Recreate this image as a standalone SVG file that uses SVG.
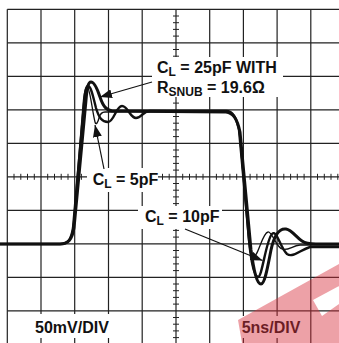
<svg xmlns="http://www.w3.org/2000/svg" width="339" height="343" viewBox="0 0 339 343">
<defs>
<style>
.grid{stroke:#222;stroke-width:1.2;fill:none}
.tick{stroke:#222;stroke-width:1;fill:none}
.trace{fill:none;stroke:#111;stroke-linejoin:round;stroke-linecap:round}
.lbl{font-family:"Liberation Sans",Arial,sans-serif;font-weight:bold;font-size:16px;fill:#111}
.sub{font-size:12px}
.bg{fill:#fff}
.arrow{stroke:#111;stroke-width:1.2;fill:none}
</style>
<marker id="ah" markerUnits="userSpaceOnUse" markerWidth="13" markerHeight="9" refX="12" refY="4.5" orient="auto">
<path d="M0,0 L12,4.5 L0,9 z" fill="#111"/>
</marker>
</defs>
<rect width="339" height="343" fill="#fff"/>
<g id="grid">
<path class="grid" d="M7.3,9.3V343 M41,9.3V343 M74.7,9.3V343 M108.5,9.3V343 M142.2,9.3V343 M176,9.3V343 M209.7,9.3V343 M243.4,9.3V343 M277.1,9.3V343 M310.8,9.3V343"/>
<path class="grid" d="M7.3,9.3H339 M7.3,42.8H339 M7.3,76.3H339 M7.3,109.8H339 M7.3,143.3H339 M7.3,176.8H339 M7.3,210.3H339 M7.3,243.8H339 M7.3,277.3H339 M7.3,310.8H339"/>
<path class="tick" d="M173,16H179 M173,22.7H179 M173,29.4H179 M173,36.1H179 M173,49.5H179 M173,56.2H179 M173,62.9H179 M173,69.6H179 M173,83H179 M173,89.7H179 M173,96.4H179 M173,103.1H179 M173,116.5H179 M173,123.2H179 M173,129.9H179 M173,136.6H179 M173,150H179 M173,156.7H179 M173,163.4H179 M173,170.1H179 M173,183.5H179 M173,190.2H179 M173,196.9H179 M173,203.6H179 M173,217H179 M173,223.7H179 M173,230.4H179 M173,237.1H179 M173,250.5H179 M173,257.2H179 M173,263.9H179 M173,270.6H179 M173,284H179 M173,290.7H179 M173,297.4H179 M173,304.1H179 M173,317.5H179 M173,324.2H179 M173,330.9H179 M173,337.6H179"/>
<path class="tick" d="M14,173.8V179.8 M20.8,173.8V179.8 M27.5,173.8V179.8 M34.3,173.8V179.8 M47.7,173.8V179.8 M54.5,173.8V179.8 M61.2,173.8V179.8 M68,173.8V179.8 M81.4,173.8V179.8 M88.2,173.8V179.8 M94.9,173.8V179.8 M101.7,173.8V179.8 M115.2,173.8V179.8 M122,173.8V179.8 M128.7,173.8V179.8 M135.5,173.8V179.8 M148.9,173.8V179.8 M155.7,173.8V179.8 M162.5,173.8V179.8 M169.2,173.8V179.8 M182.7,173.8V179.8 M189.5,173.8V179.8 M196.2,173.8V179.8 M203,173.8V179.8 M216.4,173.8V179.8 M223.2,173.8V179.8 M229.9,173.8V179.8 M236.7,173.8V179.8 M250.1,173.8V179.8 M256.9,173.8V179.8 M263.6,173.8V179.8 M270.4,173.8V179.8 M283.8,173.8V179.8 M290.6,173.8V179.8 M297.3,173.8V179.8 M304.1,173.8V179.8 M317.5,173.8V179.8 M324.3,173.8V179.8 M331,173.8V179.8 M337.8,173.8V179.8"/>
</g>
<g id="traces">
<path class="trace" stroke-width="3" d="M0,244 L60,244 C68,244 72,240 74,228 L86,100 C87,88 88,82 91,82 C94,82 97,88 100,97 C103,106 106,110 112,111 L226,112 C233,113 237,118 240,132 L251,250 C254,272 257,284 261,284 C265,284 268,265 271,250 C274,236 279,228 286,229 C292,230 296,237 302,241 C306,244 310,244 316,244 L339,244"/>
<path class="trace" stroke-width="2.4" d="M0,244 L60,244 C68,244 71,240 73,228 L84,104 C85,92 86,86 88,86 C91,86 93,96 96,108 C99,118 102,122 108,122 C114,122 116,106 122,106 C128,106 130,118 136,118 C142,118 143,111 150,111 L226,111 C233,111 236,117 239,130 L249,240 C251,262 254,276 258,277 C262,278 266,240 272,234 C277,229 280,248 287,254 C293,258 300,250 310,247 L339,247"/>
<path class="trace" stroke-width="1.3" d="M0,244 L60,244 C68,244 71,240 73,228 L83,105 C84,93 85,87 87,87 C90,87 92,110 95,122 C96,126 98,122 99,118 C100,114 102,112 105,112 L226,111 C232,111 236,116 239,128 L248,235 C249,245 250,256 253,257 C258,258 262,233 268,232 C272,231 276,247 282,249 C288,251 292,246 300,245 L339,245"/>
</g>
<g id="label-25pF">
<rect class="bg" x="152" y="57" width="131" height="40"/>
<text class="lbl" x="157" y="72.7">C<tspan class="sub" dy="3">L</tspan><tspan dy="-3"> = 25pF WITH</tspan></text>
<text class="lbl" x="157" y="92.7">R<tspan class="sub" dy="3">SNUB</tspan><tspan dy="-3"> = 19.6Ω</tspan></text>
</g>
<g id="label-5pF">
<rect class="bg" x="87" y="168" width="71" height="24"/>
<text class="lbl" x="92.7" y="185">C<tspan class="sub" dy="3">L</tspan><tspan dy="-3"> = 5pF</tspan></text>
</g>
<g id="label-10pF">
<rect class="bg" x="138" y="206" width="84" height="23"/>
<text class="lbl" x="145" y="221.7">C<tspan class="sub" dy="3">L</tspan><tspan dy="-3"> = 10pF</tspan></text>
</g>
<g id="label-vdiv">
<rect class="bg" x="30" y="314" width="85" height="24"/>
<text class="lbl" x="35" y="332.7">50mV/DIV</text>
</g>
<g id="label-tdiv">
<rect class="bg" x="236" y="316" width="70" height="22"/>
<text class="lbl" x="241.7" y="332.7">5ns/DIV</text>
</g>
<g id="connectors">
<path class="arrow" d="M152,82 L100,97" marker-end="url(#ah)"/>
<path class="arrow" d="M104,169 L95,125" marker-end="url(#ah)"/>
<path class="arrow" d="M185,229 L262.5,260.5" marker-end="url(#ah)"/>
</g>
<g id="watermark" opacity="0.45">
<path fill-rule="evenodd" d="M238,320 L339,264 L339,343 L242,343 Z M313,300 L339,286 L339,304 L322,316 Z" fill="#d62f3c"/>
</g>
</svg>
